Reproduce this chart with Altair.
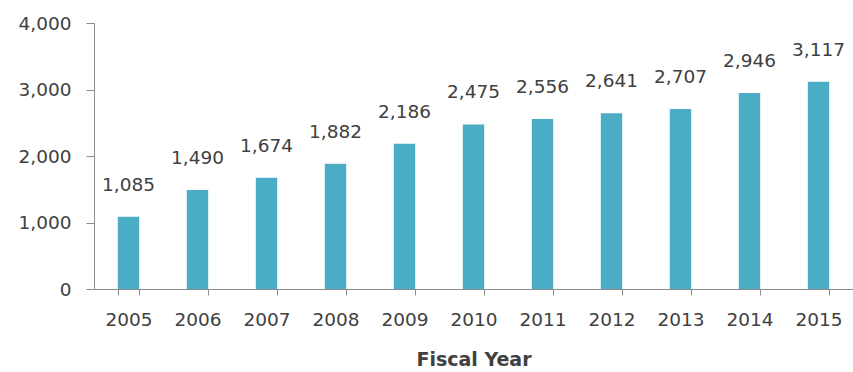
import altair as alt
import pandas as pd

years = ["2005", "2006", "2007", "2008", "2009", "2010", "2011", "2012", "2013", "2014", "2015"]
values = [1085, 1490, 1674, 1882, 2186, 2475, 2556, 2641, 2707, 2946, 3117]
y_ticks = [0, 1000, 2000, 3000, 4000]

df = pd.DataFrame({"year": years, "value": values})

FONT = "DejaVu Sans"
TXT = "#404040"
AX = "#8c8c8c"

x_enc = alt.X("year:N", sort=years,
              scale=alt.Scale(paddingInner=0.69, paddingOuter=0.345),
              axis=alt.Axis(title="Fiscal Year", labelAngle=0, tickBand="extent",
                            tickSize=6, labelPadding=15, titlePadding=22,
                            labelFontSize=18.5, titleFontSize=19, titleFontWeight="bold",
                            domainColor=AX, tickColor=AX, labelColor=TXT, titleColor=TXT,
                            labelFont=FONT, titleFont=FONT))
y_enc = alt.Y("value:Q", scale=alt.Scale(domain=[0, 4000]),
              axis=alt.Axis(title=None, values=y_ticks, format=",.0f",
                            grid=False, tickSize=8, labelPadding=15, labelFontSize=18.5,
                            domainColor=AX, tickColor=AX, labelColor=TXT, labelFont=FONT))

bars = alt.Chart(df).mark_bar(color="#4BACC6").encode(x=x_enc, y=y_enc)
labels = alt.Chart(df).mark_text(dy=-22, fontSize=18.5, font=FONT, color=TXT, baseline="bottom").encode(
    x=alt.X("year:N", sort=years),
    y=alt.Y("value:Q"),
    text=alt.Text("value:Q", format=",.0f"),
)

chart = (bars + labels).properties(
    width=759, height=266,
    autosize=alt.AutoSizeParams(type="none"),
    padding={"left": 94, "top": 23, "right": 0, "bottom": 83},
).configure(background="white").configure_view(stroke=None, strokeWidth=0).configure_axis(grid=False)

chart.save("out.html", embed_options={"renderer": "svg", "actions": False})
